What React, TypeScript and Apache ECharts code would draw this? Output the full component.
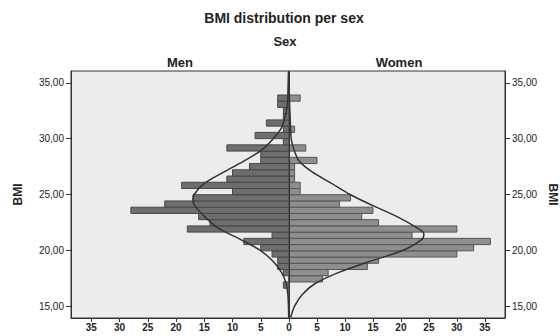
import React, { useEffect, useRef } from "react";
import * as echarts from "echarts";

// Histogram bins (BMI), lowest bin first
const BIN_START = 16.6;
const BIN_WIDTH = 0.5587;
const MEN_COUNTS = [1, 0, 1, 2, 2, 3, 5, 8, 3, 18, 14, 16, 28, 22, 17, 10, 19, 11, 10, 7, 5, 5, 11, 1, 6, 1, 4, 1, 1, 2, 2];
const WOMEN_COUNTS = [0, 6, 7, 14, 16, 30, 33, 36, 22, 30, 16, 13, 15, 9, 11, 2, 2, 1, 1, 1, 5, 0, 3, 0, 0, 1, 0, 0, 0, 0, 2];

// Fitted normal curves as [BMI, frequency]
const MEN_CURVE = [
  [36, 0.1], [34, 0.2], [33, 0.3], [32, 0.7], [31, 1.3], [30, 2.8], [29, 4.8], [28, 8.0],
  [27, 11.6], [26, 15.0], [25, 16.8], [24.5, 17.0], [24, 16.7], [23, 14.9], [22, 12.6],
  [21, 8.7], [20, 5.1], [19, 2.8], [18, 1.3], [17, 0.5], [16, 0.2], [15, 0.1], [14, 0.05],
];
const WOMEN_CURVE = [
  [36, 0.0], [34, 0.05], [32, 0.2], [30, 0.4], [29, 0.9], [28, 1.8], [27, 4.2], [26, 7.6],
  [25, 10.9], [24, 15.0], [23, 19.4], [22, 22.9], [21.5, 24.1], [21, 23.8], [20, 20.4],
  [19, 14.4], [18, 8.8], [17, 4.6], [16, 2.3], [15, 1.0], [14, 0.3],
];

const Y_TICKS = [15, 20, 25, 30, 35];
const X_TICKS = [0, 5, 10, 15, 20, 25, 30, 35];

const FONT = "Liberation Sans";

function toBins(counts: number[]) {
  return counts
    .map((c, i) => [BIN_START + i * BIN_WIDTH, BIN_START + (i + 1) * BIN_WIDTH, c])
    .filter((d) => d[2] > 0);
}

function barRenderer(fill: string, stroke: string) {
  return (_params: any, api: any) => {
    const lo = api.value(0);
    const hi = api.value(1);
    const c = api.value(2);
    const p0 = api.coord([0, lo]);
    const p1 = api.coord([c, hi]);
    return {
      type: "rect",
      shape: {
        x: Math.min(p0[0], p1[0]),
        y: Math.min(p0[1], p1[1]),
        width: Math.abs(p1[0] - p0[0]),
        height: Math.abs(p1[1] - p0[1]),
      },
      style: { fill, stroke, lineWidth: 1 },
    };
  };
}

export default function App() {
  const ref = useRef<HTMLDivElement>(null);

  useEffect(() => {
    document.body.style.margin = "0";
    if (!ref.current) return;
    const chart = echarts.init(ref.current, null, { renderer: "svg" });

    const headStyle = { fontFamily: FONT, fontSize: 12, fontWeight: "bold", color: "#222" };
    const panelStyle = { ...headStyle, fontSize: 13 };

    const yAxisBase = {
      type: "value",
      min: 13.93,
      max: 36.07,
      splitLine: { show: false },
      axisLine: { show: true, onZero: false, lineStyle: { color: "#333" } },
      axisTick: { show: true, length: 5, lineStyle: { color: "#333" }, customValues: Y_TICKS },
      axisLabel: {
        customValues: Y_TICKS,
        fontFamily: FONT,
        fontSize: 10,
        color: "#222",
        margin: 7,
        formatter: (v: number) => v.toFixed(2).replace(".", ","),
      },
      nameLocation: "middle",
      nameTextStyle: headStyle,
    };

    const xAxisBase = {
      type: "value",
      min: 0,
      max: 38.6,
      splitLine: { show: false },
      axisLine: { show: true, onZero: false, lineStyle: { color: "#333" } },
      axisTick: { show: true, length: 4, lineStyle: { color: "#333" }, customValues: X_TICKS },
    };

    const xLabel = (values: number[]) => ({
      customValues: values,
      fontFamily: FONT,
      fontSize: 10,
      fontWeight: "bold",
      color: "#222",
      margin: 4,
    });

    chart.setOption({
      animation: false,
      backgroundColor: "#ffffff",
      title: [
        {
          text: "BMI distribution per sex", left: 284, textAlign: "center", top: 11, padding: 0,
          textStyle: { ...headStyle, fontSize: 14 },
        },
        { text: "Sex", left: 285, textAlign: "center", top: 35, padding: 0, textStyle: panelStyle },
        { text: "Men", left: 180, textAlign: "center", top: 56, padding: 0, textStyle: panelStyle },
        { text: "Women", left: 399, textAlign: "center", top: 56, padding: 0, textStyle: panelStyle },
      ],
      grid: [
        {
          left: 71, top: 71, width: 218, height: 247,
          show: true, backgroundColor: "#ececec", borderColor: "#333", borderWidth: 1,
        },
        {
          left: 289, top: 71, width: 219, height: 247,
          show: true, backgroundColor: "#ececec", borderColor: "#333", borderWidth: 1,
        },
      ],
      xAxis: [
        { ...xAxisBase, gridIndex: 0, inverse: true, axisLabel: xLabel(X_TICKS) },
        { ...xAxisBase, gridIndex: 1, axisLabel: xLabel(X_TICKS.slice(1)) },
      ],
      yAxis: [
        { ...yAxisBase, gridIndex: 0, position: "left", name: "BMI", nameGap: 47, nameRotate: 90 },
        { ...yAxisBase, gridIndex: 1, position: "right", name: "BMI", nameGap: 42, nameRotate: -90 },
      ],
      series: [
        {
          type: "custom",
          name: "Men",
          xAxisIndex: 0,
          yAxisIndex: 0,
          data: toBins(MEN_COUNTS),
          encode: { x: 2, y: [0, 1] },
          renderItem: barRenderer("#6e6e6e", "#474747"),
        },
        {
          type: "custom",
          name: "Women",
          xAxisIndex: 1,
          yAxisIndex: 1,
          data: toBins(WOMEN_COUNTS),
          encode: { x: 2, y: [0, 1] },
          renderItem: barRenderer("#8e8e8e", "#555555"),
        },
        {
          type: "line",
          name: "Men normal",
          xAxisIndex: 0,
          yAxisIndex: 0,
          data: MEN_CURVE.map(([b, v]) => [v, b]),
          smooth: 0.3,
          showSymbol: false,
          lineStyle: { color: "#333", width: 1.5 },
          z: 5,
        },
        {
          type: "line",
          name: "Women normal",
          xAxisIndex: 1,
          yAxisIndex: 1,
          data: WOMEN_CURVE.map(([b, v]) => [v, b]),
          smooth: 0.3,
          showSymbol: false,
          lineStyle: { color: "#333", width: 1.5 },
          z: 5,
          markLine: {
            silent: true,
            symbol: ["none", "none"],
            label: { show: false },
            lineStyle: { color: "#333", width: 1, type: "solid" },
            data: [{ xAxis: 0 }],
          },
        },
      ],
    });

    return () => chart.dispose();
  }, []);

  return <div ref={ref} style={{ width: 560, height: 336 }} />;
}
